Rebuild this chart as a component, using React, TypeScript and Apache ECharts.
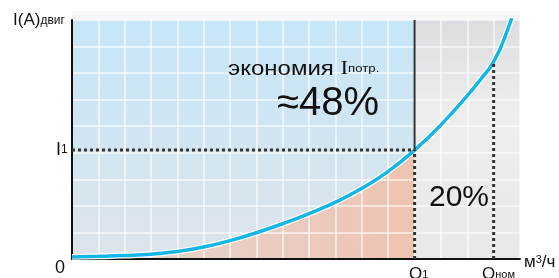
import React, { useEffect, useRef } from "react";
import * as echarts from "echarts";

// Flow (grid units) and motor current (grid units)
const flowValues = [0, 1, 2, 3, 4, 5, 6, 7, 8, 9, 10, 11, 12, 13, 14, 15, 15.5, 16, 16.5, 17];
const currentValues = [0.08, 0.1, 0.13, 0.18, 0.28, 0.45, 0.69, 0.99, 1.33, 1.71, 2.14, 2.66, 3.3, 4.1, 5.05, 6.15, 6.76, 7.43, 8.55, 10.1];
const Q1 = 13;
const QNOM = 16;
const I1 = 4.1;
const I_NOM = 7.43;
const X_MAX = 17;
const Y_MAX = 9;

const FONT = "'Liberation Sans', Arial, sans-serif";

export default function App() {
  const ref = useRef<HTMLDivElement>(null);
  useEffect(() => {
    if (!ref.current) return;
    const chart = echarts.init(ref.current, null, { renderer: "svg" });
    const curve = flowValues.map((x, i) => [x, currentValues[i]]);
    const savedPart = curve.filter((p) => p[0] <= Q1);
    const dark = "#333333";
    const option: any = {
      animation: false,
      grid: { left: 72, right: 39, top: 20, bottom: 19 },
      xAxis: {
        type: "value",
        min: 0,
        max: X_MAX,
        interval: 1,
        z: 2,
        axisLine: { show: true, lineStyle: { color: "#111", width: 2 } },
        axisTick: { show: false },
        axisLabel: { show: false },
        splitLine: { show: true, lineStyle: { color: "rgba(255,255,255,0.75)", width: 1.5 } },
      },
      yAxis: {
        type: "value",
        min: 0,
        max: Y_MAX,
        interval: 1,
        z: 2,
        axisLine: { show: true, lineStyle: { color: "#111", width: 2 } },
        axisTick: { show: false },
        axisLabel: { show: false },
        splitLine: { show: true, lineStyle: { color: "rgba(255,255,255,0.75)", width: 1.5 } },
      },
      series: [
        {
          type: "line",
          z: 0,
          data: [[0, 0]],
          showSymbol: false,
          lineStyle: { opacity: 0 },
          silent: true,
          markArea: {
            silent: true,
            z: 0,
            data: [
              [
                {
                  coord: [0, Y_MAX],
                  itemStyle: {
                    color: new echarts.graphic.LinearGradient(0, 0, 0, 1, [
                      { offset: 0, color: "#c6e6f8" },
                      { offset: 1, color: "#dde4ea" },
                    ]),
                  },
                },
                { coord: [Q1, 0] },
              ],
              [
                {
                  coord: [Q1, Y_MAX],
                  itemStyle: {
                    color: new echarts.graphic.LinearGradient(0, 0, 0, 1, [
                      { offset: 0, color: "#dcdde0" },
                      { offset: 0.4, color: "#eeeeee" },
                      { offset: 1, color: "#e8e8e9" },
                    ]),
                  },
                },
                { coord: [X_MAX, 0] },
              ],
            ],
          },
        },
        {
          type: "line",
          z: 1.5,
          data: savedPart,
          smooth: true,
          showSymbol: false,
          lineStyle: { width: 0 },
          areaStyle: {
            opacity: 1,
            color: new echarts.graphic.LinearGradient(0, 0, 1, 0, [
              { offset: 0, color: "#e2d8d6" },
              { offset: 1, color: "#efc3b1" },
            ]),
          },
          silent: true,
        },
        {
          type: "line",
          z: 3,
          data: curve,
          smooth: true,
          showSymbol: false,
          lineStyle: { color: "#ffffff", width: 6 },
          silent: true,
        },
        {
          type: "line",
          z: 4,
          data: curve,
          smooth: true,
          showSymbol: false,
          lineStyle: { color: "#14b6e6", width: 3.5 },
          silent: true,
        },
        {
          type: "line",
          z: 5,
          data: [[0, I1], [Q1, I1]],
          showSymbol: false,
          lineStyle: { color: dark, width: 3, type: [3, 3] },
          silent: true,
        },
        {
          type: "line",
          z: 5,
          data: [[Q1, 0], [Q1, I1]],
          showSymbol: false,
          lineStyle: { color: dark, width: 3, type: [3, 3] },
          silent: true,
        },
        {
          type: "line",
          z: 5,
          data: [[Q1, I1], [Q1, Y_MAX]],
          showSymbol: false,
          lineStyle: { color: dark, width: 2 },
          silent: true,
        },
        {
          type: "line",
          z: 5,
          data: [[QNOM, 0], [QNOM, I_NOM]],
          showSymbol: false,
          lineStyle: { color: dark, width: 3, type: [3, 3] },
          silent: true,
        },
      ],
      graphic: [
        { type: "rect", z: -1, shape: { x: 72, y: 11, width: 448, height: 9 }, style: { fill: "#f7f7f7" } },
        {
          type: "text",
          z: 10,
          x: 13,
          y: 11,
          style: {
            text: "{a|I(A)}{b|двиг}",
            rich: {
              a: { fontSize: 17, fontFamily: FONT, fill: "#111" },
              b: { fontSize: 12, fontFamily: FONT, fill: "#111" },
            },
          },
        },
        {
          type: "text",
          z: 10,
          x: 56,
          y: 140,
          style: {
            text: "{a|I}{b|1}",
            rich: {
              a: { fontSize: 18, fontFamily: FONT, fill: "#111" },
              b: { fontSize: 12, fontFamily: FONT, fill: "#111" },
            },
          },
        },
        {
          type: "text",
          z: 10,
          x: 55,
          y: 258,
          style: { text: "0", fontSize: 18, fontFamily: FONT, fill: "#111" },
        },
        {
          type: "text",
          z: 10,
          x: 409,
          y: 265,
          style: {
            text: "{a|Q}{b|1}",
            rich: {
              a: { fontSize: 17, fontFamily: FONT, fill: "#111" },
              b: { fontSize: 11, fontFamily: FONT, fill: "#111" },
            },
          },
        },
        {
          type: "text",
          z: 10,
          x: 482,
          y: 265,
          style: {
            text: "{a|Q}{b|ном}",
            rich: {
              a: { fontSize: 17, fontFamily: FONT, fill: "#111" },
              b: { fontSize: 11, fontFamily: FONT, fill: "#111" },
            },
          },
        },
        {
          type: "text",
          z: 10,
          x: 524,
          y: 253,
          style: {
            text: "{a|м}{b|3}{a|/ч}",
            rich: {
              a: { fontSize: 17, fontFamily: FONT, fill: "#111" },
              b: { fontSize: 11, fontFamily: FONT, fill: "#111", verticalAlign: "top" },
            },
          },
        },
        {
          type: "text",
          z: 10,
          x: 228,
          y: 58,
          scaleX: 1.2,
          style: {
            text: "{a|экономия }{c|I}{b|потр.}",
            rich: {
              a: { fontSize: 20, fontFamily: FONT, fill: "#111" },
              c: { fontSize: 19, fontFamily: "'Liberation Serif', 'Times New Roman', serif", fill: "#111" },
              b: { fontSize: 11, fontFamily: FONT, fill: "#111" },
            },
          },
        },
        {
          type: "text",
          z: 10,
          x: 277,
          y: 81,
          style: { text: "≈48%", fontSize: 40, fontFamily: FONT, fill: "#111" },
        },
        {
          type: "text",
          z: 10,
          x: 429,
          y: 180,
          style: { text: "20%", fontSize: 30, fontFamily: FONT, fill: "#111" },
        },
      ],
    };
    chart.setOption(option);
    return () => chart.dispose();
  }, []);
  return <div ref={ref} style={{ width: 559, height: 278, position: "fixed", left: 0, top: 0 }} />;
}
